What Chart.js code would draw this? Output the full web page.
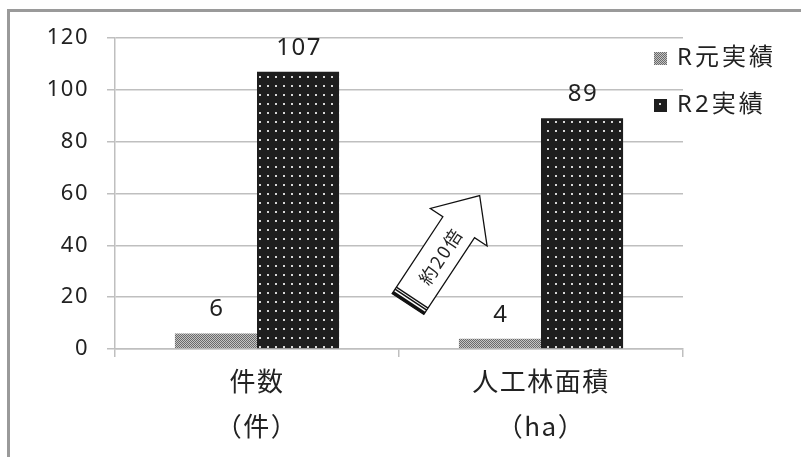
<!DOCTYPE html>
<html>
<head>
<meta charset="utf-8">
<script src="https://cdn.jsdelivr.net/npm/chart.js@4.4.0/dist/chart.umd.min.js"></script>
<style>
  body { margin: 0; background: #fff; }
</style>
</head>
<body>
<canvas id="myChart" width="806" height="457"></canvas>
<script>
const categories = [['件数', '（件）'], ['人工林面積', '（ha）']];
const seriesNames = ['R元実績', 'R2実績'];
const r1Values = [6, 4];
const r2Values = [107, 89];
const yTicks = [0, 20, 40, 60, 80, 100, 120];

const FONT = '"Noto Sans", "Noto Sans CJK JP", sans-serif';
const CJK_FONT = '"Noto Sans CJK JP", "Noto Sans", sans-serif';
const gridColor = '#bfbfbf';

// fine gray dither for R元
function ditherPattern(ctx) {
    const c = document.createElement('canvas');
    c.width = 2; c.height = 2;
    const g = c.getContext('2d');
    g.fillStyle = '#c4c4c4'; g.fillRect(0, 0, 2, 2);
    g.fillStyle = '#6a6a6a'; g.fillRect(0, 0, 1, 1); g.fillRect(1, 1, 1, 1);
    return ctx.createPattern(c, 'repeat');
}
// black with white dots for R2
function dotPattern(ctx) {
    const c = document.createElement('canvas');
    c.width = 8; c.height = 9;
    const g = c.getContext('2d');
    g.fillStyle = '#1e1e1e'; g.fillRect(0, 0, 8, 9);
    g.fillStyle = '#d8d8d8'; g.fillRect(3, 4, 2, 2);
    return ctx.createPattern(c, 'repeat');
}

const ctx = document.getElementById('myChart').getContext('2d');
const fills = [ditherPattern(ctx), dotPattern(ctx)];

const decorations = {
    id: 'decorations',
    beforeDraw(chart) {
        const c = chart.ctx;
        c.fillStyle = '#fff';
        c.fillRect(0, 0, chart.width, chart.height);
        c.fillStyle = '#9a9a9a';
        c.fillRect(7, 9, 794, 3);
        c.fillRect(7, 9, 3, chart.height);
        // the original text is loosely spaced
        c.letterSpacing = '1.5px';
    },
    afterDatasetsDraw(chart) {
        const c = chart.ctx;
        c.save();
        // value labels
        c.font = '24px ' + FONT;
        c.fillStyle = '#222';
        c.textAlign = 'center';
        c.textBaseline = 'alphabetic';
        chart.data.datasets.forEach((ds, i) => {
            chart.getDatasetMeta(i).data.forEach((bar, j) => {
                c.fillText(String(ds.data[j]), bar.x + 1, bar.y - 17);
            });
        });

        // legend
        c.font = '24px ' + FONT;
        c.letterSpacing = '3px';
        c.textAlign = 'left';
        c.textBaseline = 'middle';
        const legY = [58, 105];
        seriesNames.forEach((name, i) => {
            c.fillStyle = fills[i];
            c.fillRect(654, legY[i] - 6, 13, 13);
            c.fillStyle = '#222';
            c.fillText(name, 677, legY[i]);
        });

        // block arrow "約20倍"
        const tx = 408, ty = 304;
        const ang = Math.atan2(-109, 72);
        c.translate(tx, ty);
        c.rotate(ang);
        const L = 130, hw = 19, hh = 34, hl = 38;
        c.beginPath();
        c.moveTo(0, -hw);
        c.lineTo(L - hl, -hw);
        c.lineTo(L - hl, -hh);
        c.lineTo(L, 0);
        c.lineTo(L - hl, hh);
        c.lineTo(L - hl, hw);
        c.lineTo(0, hw);
        c.closePath();
        c.fillStyle = '#fff';
        c.fill();
        c.strokeStyle = '#111';
        c.lineWidth = 1.3;
        c.stroke();
        // stripes at tail
        c.fillStyle = '#111';
        c.fillRect(0, -hw, 3, hw * 2);
        c.fillRect(4.5, -hw, 1.5, hw * 2);
        c.fillRect(7, -hw, 1.3, hw * 2);
        // text
        c.fillStyle = '#222';
        c.font = '18px ' + CJK_FONT;
        c.letterSpacing = '2px';
        c.textAlign = 'center';
        c.textBaseline = 'middle';
        c.fillText('約20倍', 58, 1);
        c.restore();
    },
    afterDraw(chart) {
        chart.ctx.letterSpacing = '0px';
    }
};

new Chart(ctx, {
    type: 'bar',
    data: {
        labels: categories,
        datasets: [
            { label: seriesNames[0], data: r1Values, backgroundColor: fills[0], borderWidth: 0 },
            { label: seriesNames[1], data: r2Values, backgroundColor: fills[1], borderWidth: 0 }
        ]
    },
    options: {
        responsive: false,
        animation: false,
        layout: { padding: { left: 0, top: 38, right: 123, bottom: 0 } },
        plugins: {
            legend: { display: false },
            tooltip: { enabled: false }
        },
        datasets: {
            bar: { categoryPercentage: 0.578, barPercentage: 1.0 }
        },
        scales: {
            x: {
                offset: true,
                grid: { drawOnChartArea: false, color: gridColor, lineWidth: 1.5, tickLength: 8, offset: true },
                border: { color: gridColor, width: 1.5 },
                ticks: { color: '#222', font: { family: CJK_FONT, size: 26, lineHeight: 1.72 }, padding: 2 },
                afterFit(scale) { scale.height = 457 - 349; }
            },
            y: {
                min: 0,
                max: 120,
                afterBuildTicks(scale) { scale.ticks = yTicks.map(v => ({ value: v })); },
                grid: { color: gridColor, lineWidth: 1.5, tickLength: 8 },
                border: { color: gridColor, width: 1.5 },
                ticks: { color: '#222', font: { family: FONT, size: 22 }, padding: 18 },
                afterFit(scale) { scale.width = 115; }
            }
        }
    },
    plugins: [decorations]
});
</script>
</body>
</html>
